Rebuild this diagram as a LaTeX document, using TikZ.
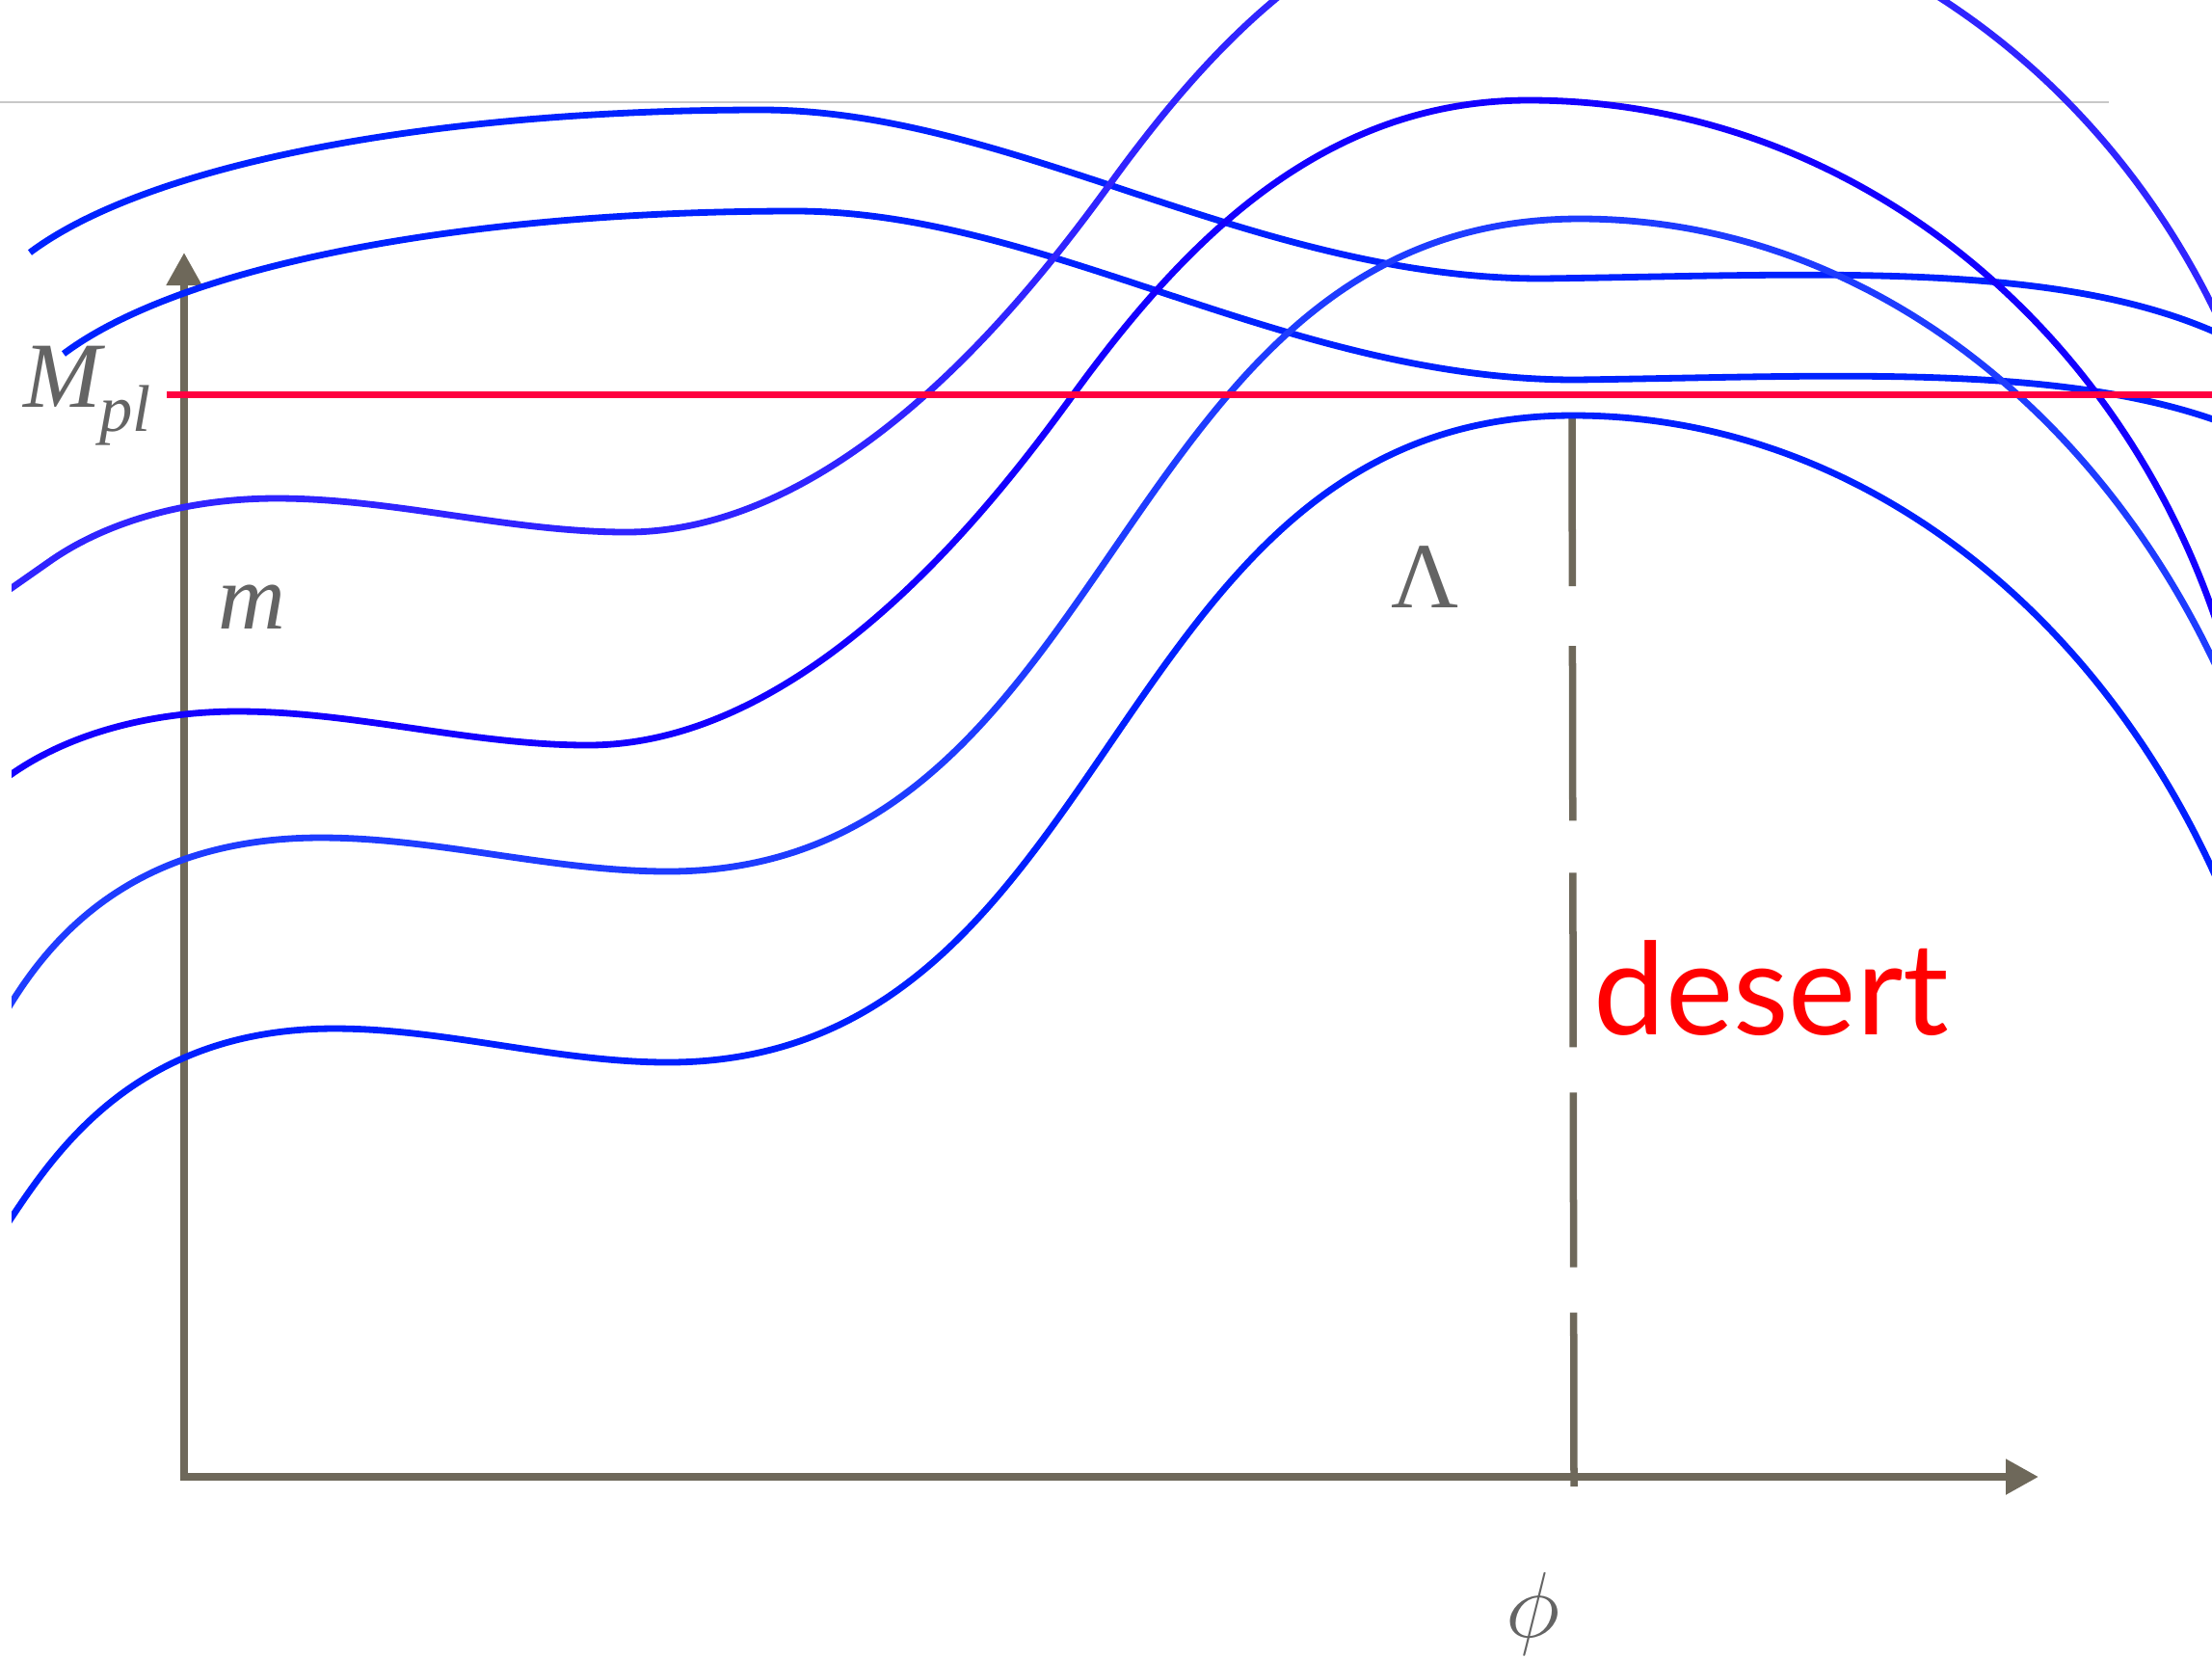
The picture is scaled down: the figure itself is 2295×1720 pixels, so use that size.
\documentclass[tikz,border=0pt]{standalone}
\usepackage{graphicx}
\usepackage{fontspec}
\setmainfont{Liberation Serif}
\newfontfamily\desertfont{Lato}
\usetikzlibrary{arrows.meta}
\definecolor{axisc}{RGB}{110,104,90}
\definecolor{labelc}{RGB}{100,100,100}
\definecolor{mplred}{RGB}{255,0,64}
\definecolor{topgray}{RGB}{200,200,200}
\definecolor{cA}{RGB}{0,34,255}
\definecolor{cB}{RGB}{0,34,255}
\definecolor{cone}{RGB}{48,36,255}
\definecolor{ctwo}{RGB}{20,0,255}
\definecolor{cthree}{RGB}{30,60,255}
\definecolor{cfour}{RGB}{0,32,255}
\begin{document}
\begin{tikzpicture}[x=0.01cm,y=-0.01cm,
  >={Triangle[length=3.4mm,width=3.5mm]},
  curve/.style={line width=0.68mm, line cap=butt},
  axisline/.style={draw=axisc, line width=0.8mm, line join=miter},
  lbl/.style={text=labelc, inner sep=0pt, font=\fontsize{27.5}{30}\selectfont}]
\useasboundingbox (0,0) rectangle (2295,1720);
\fill[white] (0,0) rectangle (2295,1720);
\begin{scope}
\clip (0,0) rectangle (2295,1720);
% thin gray line at top
\coordinate (g1) at (0,106);
\coordinate (g2) at (2188,106);
\draw[topgray, line width=0.2mm] (g1) -- (g2);
% axes
\coordinate (ytip) at (191,262);
\coordinate (origin) at (191,1532);
\coordinate (xtip) at (2115,1532);
\draw[axisline, <->] (ytip) -- (origin) -- (xtip);
% dashed line at Lambda
\coordinate (dtop) at (1631,429);
\coordinate (dbot) at (1633,1542);
\draw[axisc, line width=0.75mm, dash pattern=on 17.9mm off 6.2mm on 18.1mm off 5.4mm on 18.1mm off 4.7mm on 18.1mm off 4.7mm on 18.1mm off 50mm] (dtop) -- (dbot);
% wavy curves A and B (B is A shifted)
\draw[curve, cA] (31,262) .. controls (151,172) and (440,114) .. (790,114) .. controls (1050,114) and (1300,289) .. (1600,289) .. controls (1900,285) and (2160,268) .. (2330,360);
\draw[curve, cB, shift={(35,105)}] (31,262) .. controls (151,172) and (440,114) .. (790,114) .. controls (1050,114) and (1300,289) .. (1600,289) .. controls (1900,285) and (2160,268) .. (2330,360);
\end{scope}
\begin{scope}
\clip (12,0) rectangle (2295,1720);
% curve 1 (curve 2 shifted)
\draw[curve, cone, shift={(40,-221)}] (-48,845) -- (12,803) .. controls (72,761) and (157,738) .. (247,738) .. controls (368,738) and (489,773) .. (610,773) .. controls (840,773) and (1033,520) .. (1113,410) .. controls (1223,259) and (1366,104) .. (1586,104) .. controls (2006,104) and (2346,474) .. (2346,930);
% curve 2
\draw[curve, ctwo] (-48,845) -- (12,803) .. controls (72,761) and (157,738) .. (247,738) .. controls (368,738) and (489,773) .. (610,773) .. controls (840,773) and (1033,520) .. (1113,410) .. controls (1223,259) and (1366,104) .. (1586,104) .. controls (2006,104) and (2346,474) .. (2346,930);
% curve 3
\draw[curve, cthree] (4,1053) -- (12,1040) .. controls (57,968) and (143,869) .. (333,869) .. controls (453,869) and (573,904) .. (693,904) .. controls (1163,904) and (1149,227) .. (1639,227) .. controls (2059,227) and (2399,639) .. (2399,1148);
% curve 4
\draw[curve, cfour] (4,1275) -- (12,1263) .. controls (62,1188) and (147,1067) .. (347,1067) .. controls (462,1067) and (578,1102) .. (693,1102) .. controls (1163,1102) and (1142,431) .. (1632,431) .. controls (2052,431) and (2392,843) .. (2392,1352);
\end{scope}
% red M_pl line
\coordinate (r1) at (173,409);
\coordinate (r2) at (2295,409);
\draw[mplred, line width=0.7mm] (r1) -- (r2);
% labels
\node[lbl, anchor=base west] (mpl) at (24,422) {\textit{M}\kern-0.06cm\raisebox{-0.25cm}{\fontsize{19.5}{21}\selectfont\textit{pl}}};
\node[lbl, anchor=base west] (mlab) at (226,652) {\textit{m}};
\node[lbl, anchor=base west] (lam) at (1443,630) {Λ};
\node[lbl, anchor=base, font=\fontsize{24.88}{30}\selectfont] (phil) at (1590,1698) {\scalebox{1.105}{$\phi$}};
\node[anchor=base west, inner sep=0pt, text=red, font=\desertfont\fontsize{37.8}{40}\selectfont] (des) at (1653,1073) {desert};
\end{tikzpicture}
\end{document}
